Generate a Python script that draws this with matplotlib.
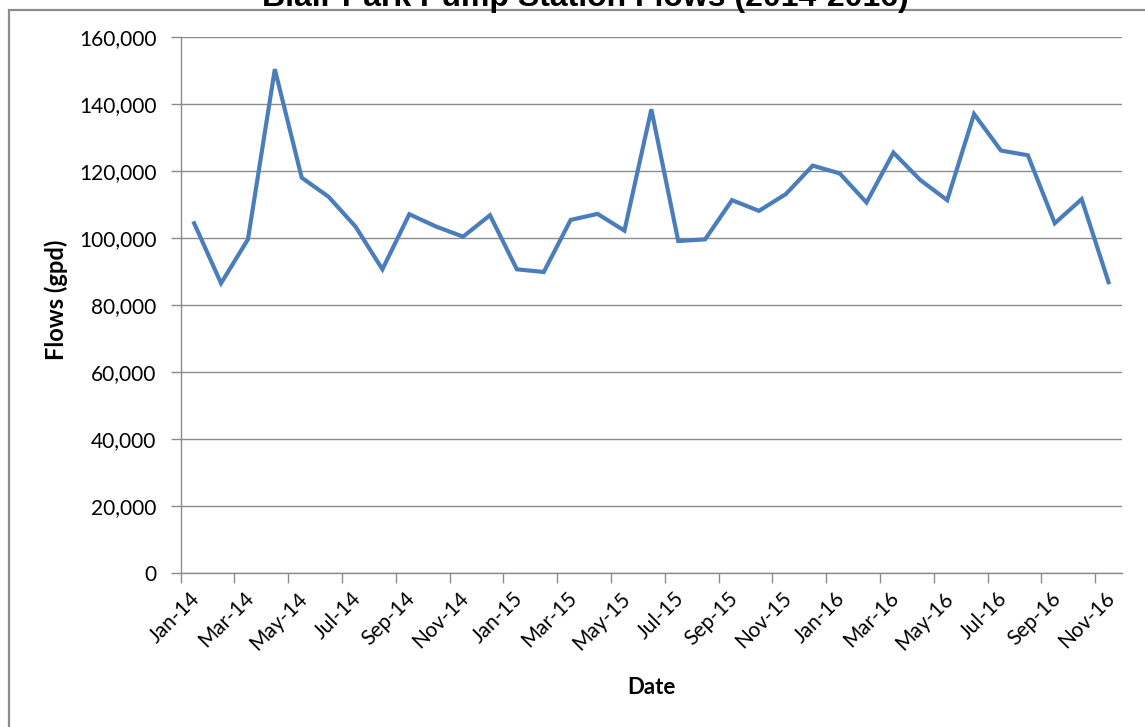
import numpy as np
import matplotlib
matplotlib.use('Agg')
import matplotlib.pyplot as plt
from matplotlib.patches import Rectangle
from matplotlib.ticker import FuncFormatter
from matplotlib.transforms import ScaledTranslation

# --- Data (monthly flows, Jan-14 .. Nov-16) ---
FLOWS = [104400, 86500, 99600, 150400, 118000, 112300, 103400, 90650, 107100,
         103400, 100400, 106800, 90650, 89850, 105400, 107200, 102200, 138400,
         99100, 99600, 111300, 108100, 113100, 121600, 119300, 110600, 125500,
         117300, 111300, 137000, 126100, 124700, 104400, 111600, 86800]
TICK_LABELS = ['Jan-14', 'Mar-14', 'May-14', 'Jul-14', 'Sep-14', 'Nov-14',
               'Jan-15', 'Mar-15', 'May-15', 'Jul-15', 'Sep-15', 'Nov-15',
               'Jan-16', 'Mar-16', 'May-16', 'Jul-16', 'Sep-16', 'Nov-16']
Y_TICKS = [0, 20000, 40000, 60000, 80000, 100000, 120000, 140000, 160000]

GRAY = '#8c8c8c'
LINE_BLUE = '#4a7ebb'
W, H = 1145, 727

plt.rcParams['font.family'] = ['Lato', 'DejaVu Sans']

fig = plt.figure(figsize=(W / 100, H / 100), dpi=100)
ax = fig.add_axes([180.7 / W, 1 - 573 / H, (1122 - 180.7) / W, (573 - 37) / H])

# months centred in slots, ticks at slot starts
x = np.arange(len(FLOWS)) + 0.5
ax.plot(x, FLOWS, color=LINE_BLUE, linewidth=3.0, solid_joinstyle='miter', zorder=3)

ax.set_xlim(0, len(FLOWS))
ax.set_ylim(0, 160000)
ax.set_xticks(np.arange(0, len(FLOWS), 2))
ax.set_xticklabels(TICK_LABELS, rotation=45, ha='right', rotation_mode='anchor')
ax.set_yticks(Y_TICKS)
ax.yaxis.set_major_formatter(FuncFormatter(lambda v, p: f'{int(v):,}'))

ax.grid(axis='y', color=GRAY, linewidth=1.0, zorder=1)
ax.set_axisbelow(True)
for side in ['top', 'right']:
    ax.spines[side].set_visible(False)
for side in ['left', 'bottom']:
    ax.spines[side].set_color(GRAY)
    ax.spines[side].set_linewidth(1.0)
ax.tick_params(axis='both', colors=GRAY, labelcolor='black', labelsize=15,
               length=7, width=1.0, direction='out')
ax.tick_params(axis='y', pad=10.5)
ax.tick_params(axis='x', pad=4)

# nudge rotated date labels to the right like the original
shift = ScaledTranslation(9 / 100, 0, fig.dpi_scale_trans)
for lbl in ax.get_xticklabels():
    lbl.set_transform(lbl.get_transform() + shift)

fig.text(56 / W, 1 - 300 / H, 'Flows (gpd)', rotation=90, ha='center',
         va='center', fontsize=17, fontweight='bold')
fig.text(651 / W, 1 - 687 / H, 'Date', ha='center', va='center',
         fontsize=16, fontweight='bold')

# chart frame (cropped on the right and bottom)
fig.add_artist(Rectangle((9 / W, -0.1), 1.2, 1.1 - 10 / H,
                         transform=fig.transFigure, fill=False,
                         edgecolor=GRAY, linewidth=1.6, clip_on=False))

# title, mostly cut off above the frame
fig.text(585 / W, 1 - 6 / H, 'Blair Park Pump Station Flows (2014-2016)',
         ha='center', va='baseline', fontsize=23, fontweight='bold',
         family='Liberation Sans')

fig.savefig('out.png', dpi=100, facecolor='white')
